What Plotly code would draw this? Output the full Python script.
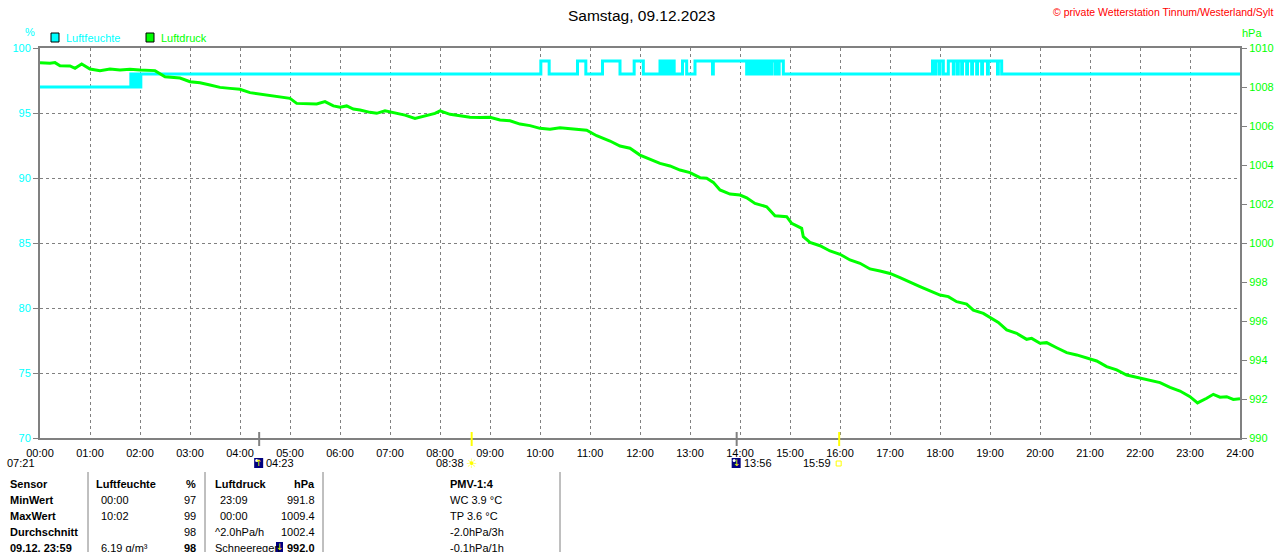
import plotly.graph_objects as go

# ─── Daten ──────────────────────────────────────────────────────────────────
stunden_label = ["%02d:00" % h for h in range(25)]

druck_zeit = [
    "00:00", "00:12", "00:18", "00:24", "00:36", "00:42", "00:50",
    "01:00", "01:12", "01:24", "01:36", "01:48",
    "02:00", "02:18", "02:30", "02:48",
    "03:00", "03:12", "03:24", "03:36", "03:48",
    "04:00", "04:12", "04:24", "04:36", "04:48",
    "05:00", "05:08", "05:20", "05:32", "05:42", "05:52",
    "06:00", "06:08", "06:16", "06:24", "06:36", "06:44", "06:54",
    "07:06", "07:18", "07:30", "07:42", "07:54",
    "08:00", "08:12", "08:24", "08:36", "08:48",
    "09:00", "09:12", "09:24", "09:36", "09:48",
    "10:00", "10:12", "10:24", "10:36", "10:48", "10:56",
    "11:08", "11:24", "11:36", "11:48",
    "12:00", "12:12", "12:24", "12:36", "12:48",
    "13:00", "13:12", "13:20", "13:28", "13:36", "13:48",
    "14:00", "14:08", "14:18", "14:32", "14:42", "14:56",
    "15:02", "15:14", "15:16", "15:24", "15:36", "15:48",
    "16:00", "16:12", "16:24", "16:36", "16:48",
    "17:00", "17:12", "17:24", "17:36", "17:48",
    "18:00", "18:10", "18:20", "18:32", "18:40", "18:52",
    "19:04", "19:10", "19:20", "19:32", "19:44", "19:50",
    "20:00", "20:08", "20:20", "20:32", "20:44", "20:56",
    "21:08", "21:20", "21:32", "21:44",
    "22:00", "22:12", "22:24", "22:36", "22:48",
    "23:00", "23:09", "23:20", "23:28", "23:36", "23:44", "23:52",
    "24:00",
]
druck_hpa = [
    1009.25, 1009.22, 1009.25, 1009.09, 1009.08, 1008.96, 1009.18,
    1008.92, 1008.84, 1008.92, 1008.87, 1008.91,
    1008.87, 1008.84, 1008.53, 1008.46,
    1008.27, 1008.22, 1008.10, 1007.98, 1007.93,
    1007.88, 1007.71, 1007.64, 1007.54, 1007.50,
    1007.42, 1007.16, 1007.13, 1007.13, 1007.25, 1007.03,
    1006.96, 1007.03, 1006.87, 1006.82, 1006.70, 1006.65, 1006.78,
    1006.68, 1006.56, 1006.39, 1006.51, 1006.65,
    1006.78, 1006.60, 1006.53, 1006.45, 1006.43,
    1006.45, 1006.31, 1006.27, 1006.10, 1006.02,
    1005.88, 1005.83, 1005.91, 1005.85, 1005.79, 1005.78,
    1005.50, 1005.23, 1004.97, 1004.86,
    1004.51, 1004.29, 1004.08, 1003.95, 1003.74,
    1003.61, 1003.35, 1003.32, 1003.11, 1002.72, 1002.51,
    1002.46, 1002.32, 1002.03, 1001.86, 1001.40, 1001.35,
    1001.01, 1000.75, 1000.32, 1000.03, 999.86, 999.59,
    999.42, 999.13, 998.96, 998.67, 998.56,
    998.44, 998.22, 998.01, 997.76, 997.54,
    997.33, 997.25, 996.99, 996.87, 996.56, 996.39,
    996.09, 995.93, 995.54, 995.37, 995.06, 995.11,
    994.86, 994.89, 994.63, 994.38, 994.26, 994.09,
    993.95, 993.66, 993.49, 993.23,
    993.06, 992.97, 992.84, 992.60, 992.41,
    992.12, 991.80, 992.04, 992.24, 992.09, 992.12, 991.98,
    992.01,
]

# Luftfeuchte als Stufen (Zeitpunkt des Wechsels, neuer Wert)
feuchte_zeit = [
    "00:00", "01:49", "01:50", "01:52", "01:53", "01:55", "01:56", "01:58", "01:59", "02:01",
    "10:01", "10:11", "10:45", "10:55", "11:15", "11:36", "11:53", "12:04",
    "12:24", "12:25", "12:26", "12:28", "12:29", "12:31", "12:33", "12:34", "12:36", "12:38",
    "12:39", "12:41", "12:51", "12:56",
    "13:06", "13:27", "13:28",
    "14:08", "14:09", "14:11", "14:12", "14:14", "14:15", "14:18", "14:19", "14:21", "14:23",
    "14:26", "14:27", "14:30", "14:31", "14:34", "14:35", "14:37", "14:38", "14:42", "14:43",
    "14:46", "14:47", "14:52",
    "17:51", "17:54", "17:55", "17:59", "18:00", "18:04", "18:10", "18:16", "18:17", "18:21",
    "18:22", "18:26", "18:27", "18:32", "18:33", "18:38", "18:39", "18:44", "18:45", "18:50",
    "18:51", "18:57", "18:58", "19:09", "19:10", "19:14",
    "24:00",
]
feuchte_pct = [
    97, 98, 97, 98, 97, 98, 97, 98, 97, 98,
    99, 98, 99, 98, 99, 98, 99, 98,
    99, 98, 99, 98, 99, 98, 99, 98, 99, 98,
    99, 98, 99, 98,
    99, 98, 99,
    98, 99, 98, 99, 98, 99, 98, 99, 98, 99,
    98, 99, 98, 99, 98, 99, 98, 99, 98, 99,
    98, 99, 98,
    99, 98, 99, 98, 99, 98, 99, 98, 99, 98,
    99, 98, 99, 98, 99, 98, 99, 98, 99, 98,
    99, 98, 99, 98, 99, 98,
    98,
]

# Sonne / Mond
ereignis_zeit = ["04:23", "08:38", "13:56", "15:59"]
ereignis_art = ["mond_auf", "sonne_auf", "mond_unter", "sonne_unter"]
daemmerung = "07:21"

# Tabelle unten
tab_sensor = ["Sensor", "MinWert", "MaxWert", "Durchschnitt", "09.12. 23:59"]
tab_feuchte_zeit = ["Luftfeuchte", "00:00", "10:02", "", "6.19 g/m³"]
tab_feuchte_wert = ["%", "97", "99", "98", "98"]
tab_druck_zeit = ["Luftdruck", "23:09", "00:00", "^2.0hPa/h", "Schneeregen"]
tab_druck_wert = ["hPa", "991.8", "1009.4", "1002.4", "992.0"]
tab_pmv = ["PMV-1:4", "WC 3.9 °C", "TP 3.6 °C", "-2.0hPa/3h", "-0.1hPa/1h"]


def stunde(t):
    hh, mm = t.split(":")
    return int(hh) + int(mm) / 60.0


# ─── Geometrie in Pixeln ────────────────────────────────────────────────────
W, H = 1280, 552
L, R, T, B = 40, 1240, 48, 438


def px(x):
    return (x - L) / (R - L)


def py(y):
    return (B - y) / (B - T)


CYAN = "#00FFFF"
GRUEN = "#00FF00"
GRAU = "#808080"
GELB = "#FFFF00"
FONT = "Liberation Sans, Arial, sans-serif"

feuchte_trace = go.Scatter(
    x=[stunde(t) for t in feuchte_zeit],
    y=feuchte_pct,
    mode="lines",
    line=dict(color=CYAN, width=3, shape="hv"),
    yaxis="y",
    showlegend=False,
    hoverinfo="skip",
)
druck_trace = go.Scatter(
    x=[stunde(t) for t in druck_zeit],
    y=druck_hpa,
    mode="lines",
    line=dict(color=GRUEN, width=3),
    yaxis="y2",
    showlegend=False,
    hoverinfo="skip",
)

fig = go.Figure(data=[feuchte_trace, druck_trace])

annos = []
shapes = []


def text(x, y, s, color="black", size=11, anchor="left", bold=False):
    if bold:
        s = "<b>" + s + "</b>"
    annos.append(dict(
        x=px(x), y=py(y), xref="paper", yref="paper", text=s, showarrow=False,
        xanchor=anchor, yanchor="middle", font=dict(family=FONT, size=size, color=color),
    ))


# Titel und Copyright
text(641, 15, "Samstag, 09.12.2023", size=15.5, anchor="center")
text(1275, 12, "© private Wetterstation Tinnum/Westerland/Sylt", color="#FF0000", size=10.5, anchor="right")

# Achsentitel
text(30, 32, "%", color=CYAN, size=11, anchor="center")
text(1240, 33, "hPa", color=GRUEN, size=11)

# Legende
shapes.append(dict(type="rect", xref="paper", yref="paper", x0=px(51), x1=px(59), y0=py(42), y1=py(33),
                   fillcolor=CYAN, line=dict(color="black", width=1)))
text(64, 38, "Luftfeuchte", color=CYAN)
shapes.append(dict(type="rect", xref="paper", yref="paper", x0=px(146), x1=px(154), y0=py(42), y1=py(33),
                   fillcolor=GRUEN, line=dict(color="black", width=1)))
text(159, 38, "Luftdruck", color=GRUEN)

# Sonne / Mond Markierungen
for t, art in zip(ereignis_zeit, ereignis_art):
    xs = stunde(t)
    farbe = GRAU if art.startswith("mond") else GELB
    shapes.append(dict(type="line", xref="x", yref="paper", x0=xs, x1=xs, y0=py(432), y1=py(446),
                       line=dict(color=farbe, width=2)))
    xp = L + xs * (R - L) / 24.0
    if art.startswith("mond"):
        shapes.append(dict(type="rect", xref="paper", yref="paper", x0=px(xp - 5), x1=px(xp + 4),
                           y0=py(468), y1=py(458), fillcolor="#000080", line=dict(width=0)))
        shapes.append(dict(type="circle", xref="paper", yref="paper", x0=px(xp - 4), x1=px(xp - 1),
                           y0=py(462), y1=py(459), fillcolor="white", line=dict(width=0)))
        pfeil = "↑" if art == "mond_auf" else "↓"
        annos.append(dict(x=px(xp), y=py(463), xref="paper", yref="paper", text=pfeil,
                          showarrow=False, xanchor="center", yanchor="middle",
                          font=dict(family="DejaVu Sans", size=9, color=GELB)))
        text(xp + 5, 463, t)
    elif art == "sonne_auf":
        text(xp - 6, 463, t, anchor="right")
        annos.append(dict(x=px(xp), y=py(463), xref="paper", yref="paper", text="☀",
                          showarrow=False, xanchor="center", yanchor="middle",
                          font=dict(family="DejaVu Sans", size=13, color=GELB)))
    else:
        text(xp - 6, 463, t, anchor="right")
        shapes.append(dict(type="rect", xref="paper", yref="paper", x0=px(xp - 3), x1=px(xp + 2),
                           y0=py(466), y1=py(461), line=dict(color=GELB, width=1)))

# Dämmerung links
text(37, 463, daemmerung, anchor="right")
shapes.append(dict(type="path", xref="paper", yref="paper",
                   path="M %f %f A 1 1 0 0 1 %f %f Z" % (px(40), py(466), px(49), py(466)),
                   fillcolor=GELB, line=dict(color=GELB, width=1)))

# Tabelle
for xl in [88, 205, 323, 560]:
    shapes.append(dict(type="line", xref="paper", yref="paper", x0=px(xl), x1=px(xl),
                       y0=py(472), y1=py(560), line=dict(color=GRAU, width=1)))

zeilen_y = [484, 500, 516, 532, 548]
for i, y in enumerate(zeilen_y):
    kopf = i == 0
    letzte = i == len(zeilen_y) - 1
    text(8, y, tab_sensor[i], bold=True)
    text(94 if kopf else 99, y, tab_feuchte_zeit[i], bold=kopf)
    text(198, y, tab_feuchte_wert[i], anchor="right", bold=kopf or letzte)
    xdz = 213 if (kopf or i >= 3) else 218
    text(xdz, y, tab_druck_zeit[i], bold=kopf)
    text(317, y, tab_druck_wert[i], anchor="right", bold=kopf or letzte)
    text(448, y, tab_pmv[i], bold=kopf)

# kleines Wetter-Symbol hinter "Schneeregen"
shapes.append(dict(type="rect", xref="paper", yref="paper", x0=px(276), x1=px(283),
                   y0=py(553), y1=py(542), fillcolor="#000080", line=dict(width=0)))
annos.append(dict(x=px(279.5), y=py(547), xref="paper", yref="paper", text="↓",
                  showarrow=False, xanchor="center", yanchor="middle",
                  font=dict(family="DejaVu Sans", size=9, color=GELB)))

fig.update_layout(
    width=W,
    height=H,
    autosize=False,
    margin=dict(l=L, r=W - R, t=T, b=H - B, pad=0, autoexpand=False),
    paper_bgcolor="white",
    plot_bgcolor="white",
    showlegend=False,
    font=dict(family=FONT, size=11, color="black"),
    xaxis=dict(
        range=[0, 24],
        tickvals=list(range(25)),
        ticktext=stunden_label,
        showgrid=True,
        gridcolor=GRAU,
        griddash="3px,3px",
        gridwidth=1,
        zeroline=False,
        showline=True,
        mirror=True,
        linecolor=GRAU,
        linewidth=2,
        ticks="outside",
        ticklen=4,
        tickcolor="rgba(0,0,0,0)",
        tickfont=dict(family=FONT, size=11, color="black"),
        automargin=False,
    ),
    yaxis=dict(
        range=[70, 100],
        tickvals=[70, 75, 80, 85, 90, 95, 100],
        showgrid=True,
        gridcolor=GRAU,
        griddash="3px,3px",
        gridwidth=1,
        zeroline=False,
        showline=True,
        mirror=True,
        linecolor=GRAU,
        linewidth=2,
        ticks="outside",
        ticklen=5,
        tickcolor=GRAU,
        tickfont=dict(family=FONT, size=11, color=CYAN),
        automargin=False,
    ),
    yaxis2=dict(
        range=[990, 1010],
        tickvals=list(range(990, 1011, 2)),
        overlaying="y",
        side="right",
        showgrid=False,
        zeroline=False,
        showline=True,
        linecolor=GRAU,
        linewidth=2,
        ticks="outside",
        ticklen=5,
        tickcolor=GRAU,
        tickfont=dict(family=FONT, size=11, color=GRUEN),
        automargin=False,
    ),
    annotations=annos,
    shapes=shapes,
)

fig.write_html(
    "out.html",
    config={"displayModeBar": False, "responsive": False},
    post_script="document.body.style.margin='0';",
)
